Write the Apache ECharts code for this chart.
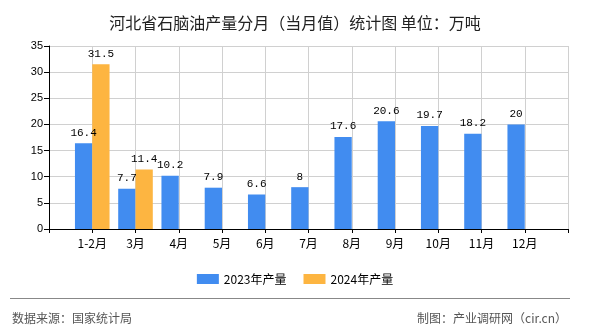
<!DOCTYPE html>
<html><head><meta charset="utf-8">
<script src="https://cdn.jsdelivr.net/npm/echarts@6/dist/echarts.min.js"></script>
<style>html,body{margin:0;padding:0;background:#fff}#c{width:590px;height:330px}</style>
</head><body><div id="c"></div>
<script>
var categories = ['1-2月','3月','4月','5月','6月','7月','8月','9月','10月','11月','12月'];
var values2023 = [16.4, 7.7, 10.2, 7.9, 6.6, 8, 17.6, 20.6, 19.7, 18.2, 20];
var values2024 = [31.5, 11.4, null, null, null, null, null, null, null, null, null];
var yTicks = [0, 5, 10, 15, 20, 25, 30, 35];

var cats = [''].concat(categories).concat(['']);
function pad(a){ return [null].concat(a).concat([null]); }
var cjk = '"Noto Sans CJK SC", sans-serif';
var chart = echarts.init(document.getElementById('c'));
chart.setOption({
  animation: false,
  title: [
    {text: '河北省石脑油产量分月（当月值）统计图 单位：万吨', left: 'center', top: 10,
     textStyle: {fontSize: 16, fontWeight: 'normal', color: '#222', fontFamily: cjk}},
    {text: '数据来源：国家统计局', left: 7, top: 307,
     textStyle: {fontSize: 12, fontWeight: 'normal', color: '#555', fontFamily: cjk}},
    {text: '制图：产业调研网（cir.cn）', right: 18, top: 307,
     textStyle: {fontSize: 12, fontWeight: 'normal', color: '#555', fontFamily: cjk}}
  ],
  graphic: [{type: 'line', shape: {x1: 10, y1: 298.5, x2: 570, y2: 298.5},
             style: {stroke: '#888', lineWidth: 1}}],
  legend: {top: 268, left: 'center', itemWidth: 22, itemHeight: 10, itemGap: 17,
    icon: 'rect',
    textStyle: {fontSize: 12, color: '#000', fontFamily: cjk},
    data: ['2023年产量', '2024年产量']},
  grid: {left: 49, right: 22, top: 46, bottom: 101},
  xAxis: {type: 'category', data: cats, boundaryGap: false,
    axisLine: {lineStyle: {color: '#000', width: 1}},
    axisTick: {show: true, length: 4, lineStyle: {color: '#000'}},
    axisLabel: {color: '#000', fontSize: 12, fontFamily: cjk, margin: 8, interval: 0},
    splitLine: {show: true, lineStyle: {color: '#d0d0d0'}}},
  yAxis: {type: 'value', min: 0, max: 35, interval: 5,
    axisLine: {show: true, lineStyle: {color: '#000'}},
    axisTick: {show: true, length: 5, lineStyle: {color: '#000'}},
    axisLabel: {color: '#000', fontSize: 11, margin: 6, fontFamily: 'Liberation Sans',
      formatter: function(v){ return yTicks.indexOf(v) >= 0 ? String(v) : ''; }},
    splitLine: {show: true, lineStyle: {color: '#d0d0d0'}}},
  series: [
    {name: '2023年产量', type: 'bar', data: pad(values2023), barWidth: 17.3, barGap: '0%',
     itemStyle: {color: '#418CF0'},
     label: {show: true, position: 'top', color: '#000', fontSize: 11, fontFamily: '"Liberation Mono", monospace'}},
    {name: '2024年产量', type: 'bar', data: pad(values2024), barWidth: 17.3, barGap: '0%',
     itemStyle: {color: '#FDB541'},
     label: {show: true, position: 'top', color: '#000', fontSize: 11, fontFamily: '"Liberation Mono", monospace'}}
  ]
});
</script></body></html>
